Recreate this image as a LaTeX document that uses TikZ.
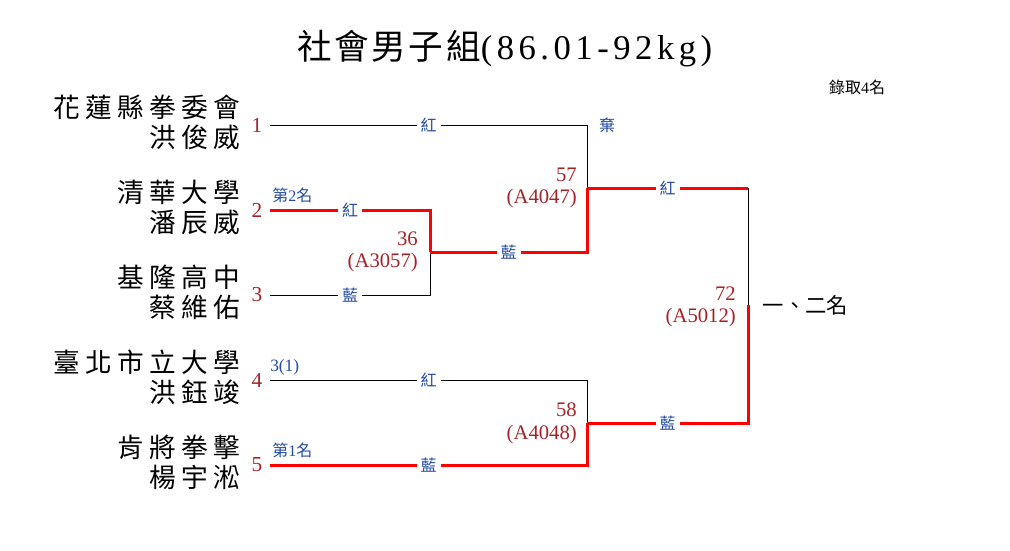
\documentclass[tikz,border=0pt]{standalone}
\usepackage{fontspec}
\setmainfont{Liberation Serif}
\newfontfamily\cjk{Noto Sans CJK TC}
\newfontfamily\cjkwide[LetterSpace=20]{Noto Sans CJK TC}
\newfontfamily\cjktitle[LetterSpace=7]{Noto Sans CJK TC}
\newfontfamily\latinwide[LetterSpace=13]{Liberation Serif}
\definecolor{numred}{RGB}{165,35,40}
\definecolor{labblue}{RGB}{35,75,165}
\definecolor{winred}{RGB}{255,0,0}
\tikzset{
  teamname/.style={anchor=east,align=right,font=\fontsize{20}{22.5}\selectfont\cjkwide,inner sep=0pt},
  seed/.style={font=\fontsize{16}{18}\selectfont,text=numred,inner sep=0pt},
  lab/.style={font=\fontsize{12}{14}\selectfont\cjk,text=labblue,fill=white,inner sep=3pt},
  winnote/.style={font=\fontsize{12}{14}\selectfont,text=labblue,inner sep=0pt,anchor=south west},
  matchno/.style={anchor=east,align=right,font=\fontsize{15.5}{17}\selectfont,text=numred,inner sep=0pt},
  lose/.style={line width=0.75pt},
  win/.style={line width=2.25pt,winred},
}
\begin{document}
\begin{tikzpicture}[x=0.75pt,y=-0.75pt]
\useasboundingbox (0,0) rectangle (1010,550);
% title
\node (title) at (505,49) {\fontsize{26}{30}\selectfont\cjktitle 社會男子組\latinwide(86.01-92kg)};
\node (quota) at (857,87) {\fontsize{12}{14}\selectfont\cjk 錄取\fontspec{Liberation Serif}4\cjk 名};
% players
\node[teamname] (t1) at (240,122) {花蓮縣拳委會\\洪俊威};
\node[teamname] (t2) at (240,207) {清華大學\\潘辰威};
\node[teamname] (t3) at (240,292) {基隆高中\\蔡維佑};
\node[teamname] (t4) at (240,377) {臺北市立大學\\洪鈺竣};
\node[teamname] (t5) at (240,462) {肯將拳擊\\楊宇淞};
\foreach \k/\y in {1/125,2/210,3/295,4/380,5/465}{
  \node[seed] (n\k) at (257,\y) {\k};
  \coordinate (s\k) at (270,\y);
}
% bracket points
\coordinate (e1) at (587,125);
\coordinate (e2) at (430,210);
\coordinate (e3) at (430,295);
\coordinate (m23) at (430,252);
\coordinate (m123) at (587,188);
\coordinate (e4) at (587,380);
\coordinate (e5) at (587,465);
\coordinate (m45) at (587,423);
\coordinate (f1) at (748,188);
\coordinate (f2) at (748,423);
\coordinate (fm) at (748,305);
% first round
\draw[win] (s2) -- node[lab] (r2) {紅} (e2) -- (m23);
\draw[lose] (s3) -- node[lab] (b3) {藍} (e3) -- (m23);
\node[matchno] (g36) at (418,252) {36\\(A3057)};
% second round
\draw[lose] (s1) -- node[lab] (r1) {紅} (e1) -- (m123);
\draw[win] (m23) -- node[lab] (b23) {藍} (m123 |- m23) -- (m123);
\node[lab,fill=none] (qi) at (607,125) {棄};
\node[matchno] (g57) at (577,188) {57\\(A4047)};
\draw[lose] (s4) -- node[lab] (r4) {紅} (e4) -- (m45);
\draw[win] (s5) -- node[lab] (b5) {藍} (e5) -- (m45);
\node[matchno] (g58) at (577,423) {58\\(A4048)};
% final
\draw[win] (m123) -- node[lab] (rf) {紅} (f1);
\draw[lose] (f1) -- (fm);
\draw[win] (m45) -- node[lab] (bf) {藍} (f2) -- (fm);
\node[matchno] (g72) at (736,307) {72\\(A5012)};
\node[anchor=west,font=\fontsize{16}{18}\selectfont\cjk] (place) at (758,305) {一、二名};
% notes
\node[winnote,font=\fontsize{12}{14}\selectfont\cjk] (w2) at (272,203) {第\fontspec{Liberation Serif}2\cjk 名};
\node[winnote,font=\fontsize{13}{15}\selectfont] (w4) at (270,375) {3(1)};
\node[winnote,font=\fontsize{12}{14}\selectfont\cjk] (w5) at (272,458) {第\fontspec{Liberation Serif}1\cjk 名};
\end{tikzpicture}
\end{document}
